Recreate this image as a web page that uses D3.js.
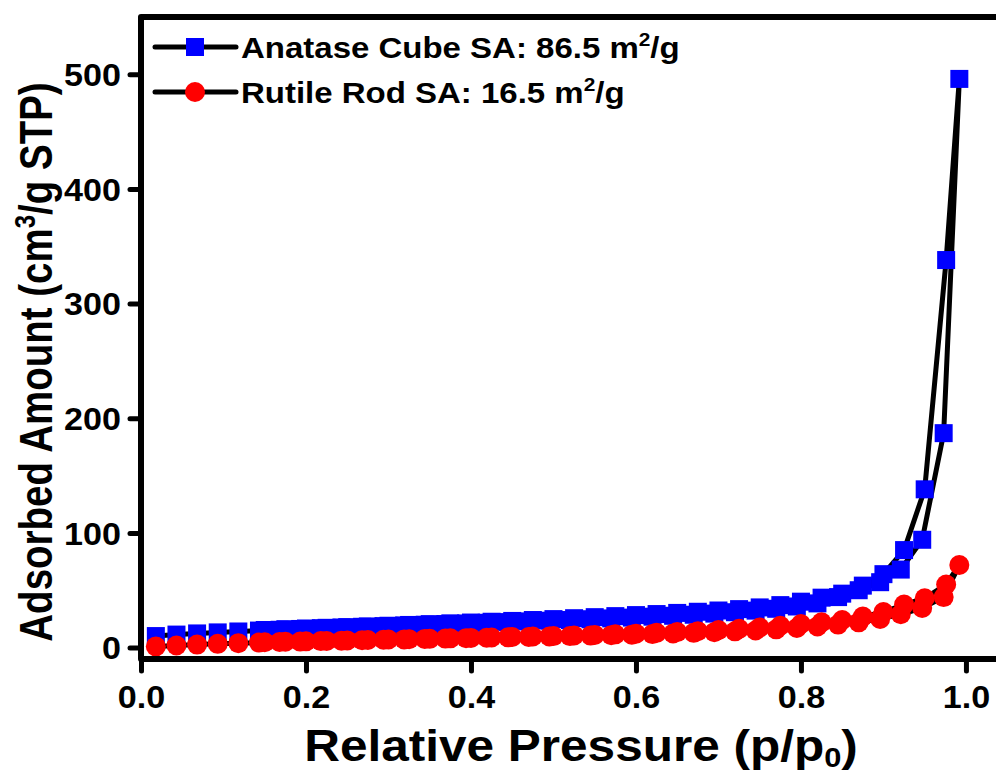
<!DOCTYPE html>
<html>
<head>
<meta charset="utf-8">
<script src="https://cdn.jsdelivr.net/npm/d3@7"></script>
<style>
  body { margin: 0; background: #fff; }
  svg { display: block; }
  text { font-family: "Liberation Sans", Arial, sans-serif; font-weight: bold; fill: #000; }
</style>
</head>
<body>
<svg width="996" height="776"></svg>
<script>
// Relative pressure steps (adsorption up, desorption down)
var pAds = [0.018, 0.043, 0.068, 0.093, 0.118, 0.143, 0.168, 0.193, 0.218, 0.243,
  0.268, 0.294, 0.319, 0.344, 0.369, 0.394, 0.419, 0.445, 0.470, 0.495,
  0.520, 0.545, 0.570, 0.595, 0.620, 0.645, 0.670, 0.695, 0.720, 0.745,
  0.770, 0.795, 0.820, 0.845, 0.870, 0.896, 0.921, 0.947, 0.973, 0.992]
var pDes = [0.976, 0.950, 0.925, 0.900, 0.875, 0.850, 0.825, 0.800, 0.775, 0.750,
  0.725, 0.700, 0.675, 0.650, 0.625, 0.600, 0.575, 0.550, 0.525, 0.500,
  0.475, 0.450, 0.425, 0.400, 0.375, 0.350, 0.325, 0.300, 0.275, 0.250,
  0.225, 0.200, 0.175, 0.150]

// Anatase cube
var anataseAds = [10, 11.3, 12.3, 13.2, 14, 14.8, 15.5, 16.2, 16.9, 17.5,
  18.1, 18.7, 19.3, 19.9, 20.5, 21, 21.6, 22.2, 22.8, 23.4,
  24, 24.7, 25.4, 26.1, 26.9, 27.7, 28.6, 29.6, 30.8, 32.2,
  33.8, 35.8, 38.5, 44, 50, 57, 68, 94, 187, 496]
var anataseDes = [338, 138, 85, 64, 54, 47, 43.5, 40, 37, 35,
  33.5, 32.3, 31.2, 30.2, 29.2, 28.3, 27.4, 26.5, 25.6, 24.8,
  24, 23.2, 22.5, 21.8, 21.1, 20.4, 19.7, 19, 18.4, 17.8,
  17.2, 16.6, 16, 15.3]

// Rutile rod
var rutileAds = [1, 1.8, 2.6, 3.2, 3.8, 4.3, 4.8, 5.2, 5.6, 6,
  6.4, 6.8, 7.1, 7.5, 7.8, 8.2, 8.5, 8.9, 9.2, 9.6,
  10, 10.4, 10.8, 11.2, 11.7, 12.2, 12.8, 13.4, 14.1, 14.9,
  15.9, 17, 18.4, 20, 22, 25, 29, 34.5, 44, 72]
var rutileDes = [55, 43, 37.5, 31, 27, 24, 22, 20.5, 19, 17.5,
  16.3, 15.2, 14.3, 13.5, 12.8, 12.1, 11.5, 11, 10.5, 10,
  9.6, 9.2, 8.8, 8.4, 8, 7.6, 7.3, 7, 6.6, 6.2,
  5.8, 5.4, 5, 4.6]

var xTicks = [0, 0.2, 0.4, 0.6, 0.8, 1.0]
var yTicks = [0, 100, 200, 300, 400, 500]

var svg = d3.select('svg')
var SX = 1.1 // the picture's text is a bit wide

var x = d3.scaleLinear().domain([0, 1.0425]).range([141, 1001])
var y = d3.scaleLinear().domain([-10, 550]).range([659, 17])

function toPoints(ads, des) {
  var pts = pAds.map(function(p, i) { return [p, ads[i]] })
  return pts.concat(pDes.map(function(p, i) { return [p, des[i]] }))
}

var series = [
  { name: 'Anatase Cube SA: 86.5 m', color: '#0000ff', shape: 'square', pts: toPoints(anataseAds, anataseDes) },
  { name: 'Rutile Rod SA: 16.5 m', color: '#ff0000', shape: 'circle', pts: toPoints(rutileAds, rutileDes) }
]

var line = d3.line()
  .x(function(d) { return x(d[0]) })
  .y(function(d) { return y(d[1]) })

series.forEach(function(s) {
  svg.append('path')
    .attr('d', line(s.pts))
    .attr('fill', 'none')
    .attr('stroke', '#000')
    .attr('stroke-width', 5)
    .attr('stroke-linejoin', 'round')

  if (s.shape === 'square') {
    svg.append('g').selectAll('rect')
      .data(s.pts).enter().append('rect')
      .attr('x', function(d) { return x(d[0]) - 9 })
      .attr('y', function(d) { return y(d[1]) - 9 })
      .attr('width', 18).attr('height', 18)
      .attr('fill', s.color)
  } else {
    svg.append('g').selectAll('circle')
      .data(s.pts).enter().append('circle')
      .attr('cx', function(d) { return x(d[0]) })
      .attr('cy', function(d) { return y(d[1]) })
      .attr('r', 10)
      .attr('fill', s.color)
  }
})

// Frame
svg.append('rect')
  .attr('x', 141).attr('y', 17)
  .attr('width', 860).attr('height', 642)
  .attr('fill', 'none')
  .attr('stroke', '#000')
  .attr('stroke-width', 6)
  .attr('stroke-linejoin', 'round')

// Axes
var xAxis = svg.append('g')
  .attr('transform', 'translate(0,659)')
  .call(d3.axisBottom(x).tickValues(xTicks).tickSize(12).tickFormat(d3.format('.1f')))
var yAxis = svg.append('g')
  .attr('transform', 'translate(141,0)')
  .call(d3.axisLeft(y).tickValues(yTicks).tickSize(11))

;[xAxis, yAxis].forEach(function(a) {
  a.select('.domain').remove()
  a.selectAll('line').attr('stroke', '#000').attr('stroke-width', 5).attr('stroke-linecap', 'round')
  a.selectAll('text').attr('font-size', 31).attr('font-family', null).attr('fill', '#000')
    .attr('transform', 'scale(' + SX + ',1)')
})
xAxis.selectAll('text').attr('dy', '0').attr('y', 27)
  .attr('dominant-baseline', 'hanging')
yAxis.selectAll('text').attr('x', -20 / SX).attr('dy', '0.36em')

// Axis titles
var xt = svg.append('text')
  .attr('transform', 'translate(581,761) scale(' + SX + ',1)')
  .attr('text-anchor', 'middle')
  .attr('font-size', 45)
xt.append('tspan').text('Relative Pressure (p/p')
xt.append('tspan').attr('font-size', 28).attr('dy', 6).text('0')
xt.append('tspan').attr('dy', -6).text(')')

var yt = svg.append('text')
  .attr('transform', 'translate(52,362) scale(1.2,1) rotate(-90)')
  .attr('text-anchor', 'middle')
  .attr('font-size', 38.5)
yt.append('tspan').text('Adsorbed Amount (cm')
yt.append('tspan').attr('font-size', 24).attr('dy', -14).text('3')
yt.append('tspan').attr('dy', 14).text('/g STP)')

// Legend
var legend = svg.append('g')
series.forEach(function(s, i) {
  var ly = 47 + i * 45
  legend.append('line')
    .attr('x1', 155).attr('x2', 236).attr('y1', ly).attr('y2', ly)
    .attr('stroke', '#000').attr('stroke-width', 5).attr('stroke-linecap', 'round')
  if (s.shape === 'square') {
    legend.append('rect').attr('x', 186).attr('y', ly - 9).attr('width', 18).attr('height', 18).attr('fill', s.color)
  } else {
    legend.append('circle').attr('cx', 195).attr('cy', ly).attr('r', 10).attr('fill', s.color)
  }
  var t = legend.append('text')
    .attr('transform', 'translate(241,' + (ly + 11) + ') scale(' + SX + ',1)')
    .attr('font-size', 30)
  t.append('tspan').text(s.name)
  t.append('tspan').attr('font-size', 19).attr('dy', -12).text('2')
  t.append('tspan').attr('dy', 12).text('/g')
})
</script>
</body>
</html>
